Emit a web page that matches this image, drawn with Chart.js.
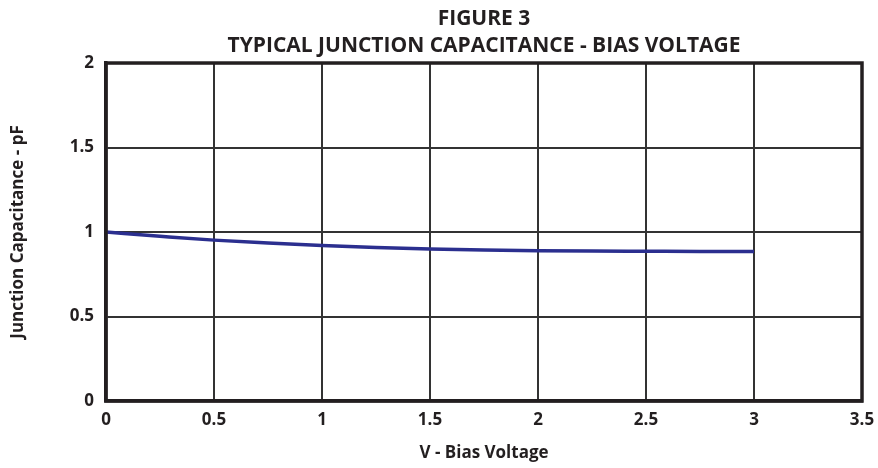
<!DOCTYPE html>
<html>
<head>
<meta charset="utf-8">
<script src="https://cdn.jsdelivr.net/npm/chart.js@4/dist/chart.umd.min.js"></script>
<style>
html,body{margin:0;padding:0;background:#fff;}
#wrap{width:878px;height:468px;position:relative;}
</style>
</head>
<body>
<div id="wrap"><canvas id="c" width="878" height="468"></canvas></div>
<script>
const titleLines = ['FIGURE 3', 'TYPICAL JUNCTION CAPACITANCE - BIAS VOLTAGE'];
const xAxisTitle = 'V - Bias Voltage';
const yAxisTitle = 'Junction Capacitance - pF';
const biasVoltage = [0, 0.25, 0.5, 0.75, 1, 1.25, 1.5, 1.75, 2, 2.25, 2.5, 2.75, 3];
const capacitance = [1.0, 0.975, 0.952, 0.935, 0.92, 0.908, 0.899, 0.893, 0.889, 0.887, 0.886, 0.885, 0.885];
const xRange = [0, 3.5];
const yRange = [0, 2];
const xStep = 0.5;
const yStep = 0.5;

const ink = '#231f20';
const fontFamily = '"Open Sans", Lato, sans-serif';
const fmt = v => String(Number(v));

new Chart(document.getElementById('c'), {
  type: 'line',
  data: {
    datasets: [{
      data: biasVoltage.map((v, i) => ({x: v, y: capacitance[i]})),
      borderColor: '#2b2f8f',
      borderWidth: 3.5,
      pointRadius: 0,
      tension: 0.4,
      cubicInterpolationMode: 'monotone',
      fill: false
    }]
  },
  options: {
    responsive: false,
    animation: false,
    layout: {padding: {left: 0, right: 16, top: 0, bottom: 0}},
    plugins: {
      legend: {display: false},
      tooltip: {enabled: false},
      title: {
        display: true,
        text: titleLines,
        fullSize: false,
        color: ink,
        font: {family: fontFamily, size: 21, weight: 'bold', lineHeight: 1.31},
        padding: {top: 5, bottom: 3}
      }
    },
    scales: {
      x: {
        type: 'linear',
        min: xRange[0], max: xRange[1],
        ticks: {stepSize: xStep, color: ink, padding: 9, callback: fmt,
          font: {family: fontFamily, size: 17, weight: 'bold'}},
        grid: {color: '#333', lineWidth: 2, drawTicks: false},
        border: {display: true, color: ink, width: 3.5},
        title: {display: true, text: xAxisTitle, color: ink,
          font: {family: fontFamily, size: 17, weight: 'bold'}, padding: {top: 4, bottom: 5}},
        afterFit: s => { s.height = 67; s.paddingLeft = 0; s.paddingRight = 0; }
      },
      y: {
        min: yRange[0], max: yRange[1],
        ticks: {stepSize: yStep, color: ink, padding: 12, callback: fmt,
          font: {family: fontFamily, size: 17, weight: 'bold'}},
        grid: {color: '#333', lineWidth: 2, drawTicks: false},
        border: {display: true, color: ink, width: 3.5},
        title: {display: true, text: yAxisTitle, color: ink,
          font: {family: fontFamily, size: 17, weight: 'bold'}, padding: {top: 8, bottom: 4}},
        afterFit: s => { s.width = 106; s.paddingTop = 0; s.paddingBottom = 0; }
      }
    }
  },
  plugins: [{
    id: 'frame',
    afterDatasetsDraw(chart) {
      const {ctx, chartArea: a} = chart;
      ctx.save();
      ctx.strokeStyle = ink;
      ctx.lineWidth = 3.5;
      ctx.strokeRect(a.left, a.top, a.right - a.left, a.bottom - a.top);
      ctx.restore();
    }
  }]
});
</script>
</body>
</html>
